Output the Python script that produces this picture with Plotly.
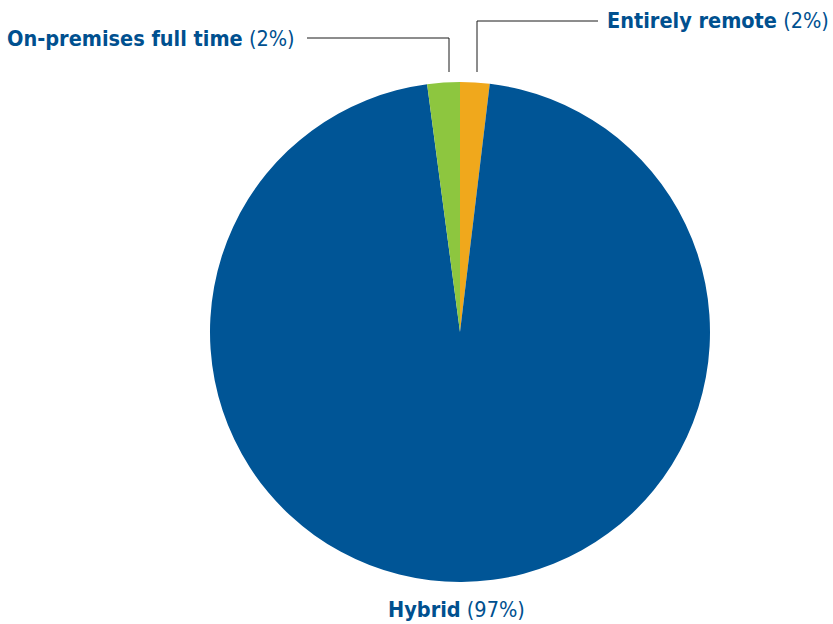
import plotly.graph_objects as go

W, H = 833, 624

categories = ["Entirely remote", "Hybrid", "On-premises full time"]
values = [1.9, 96.0, 2.1]
pct_labels = ["2%", "97%", "2%"]
colors = ["#F0A81C", "#005596", "#8DC63F"]
text_color = "#00508F"
FONT = "DejaVu Sans Condensed, DejaVu Sans, sans-serif"
FSIZE = 21.5

def px(x):
    return x / W

def py(y):
    return 1 - y / H

fig = go.Figure(go.Pie(
    labels=categories,
    values=values,
    sort=False,
    direction="clockwise",
    rotation=0,
    marker=dict(colors=colors, line=dict(width=0)),
    textinfo="none",
    hoverinfo="label+percent",
    showlegend=False,
    domain=dict(x=[px(210), px(710)], y=[py(582), py(82)]),
))

line_style = dict(color="#1a1a1a", width=1)
shapes = [
    dict(type="line", xref="paper", yref="paper", x0=px(449), y0=py(72), x1=px(449), y1=py(38), line=line_style),
    dict(type="line", xref="paper", yref="paper", x0=px(449), y0=py(38), x1=px(307), y1=py(38), line=line_style),
    dict(type="line", xref="paper", yref="paper", x0=px(477), y0=py(72), x1=px(477), y1=py(21), line=line_style),
    dict(type="line", xref="paper", yref="paper", x0=px(477), y0=py(21), x1=px(598), y1=py(21), line=line_style),
]

def label(i):
    return f"<b>{categories[i]}</b> ({pct_labels[i]})"

annotations = [
    dict(text=label(2), x=px(297), y=py(38), xref="paper", yref="paper",
         xanchor="right", yanchor="middle", showarrow=False,
         font=dict(family=FONT, size=FSIZE, color=text_color)),
    dict(text=label(0), x=px(831), y=py(21), xref="paper", yref="paper",
         xanchor="right", yanchor="middle", showarrow=False,
         font=dict(family=FONT, size=FSIZE, color=text_color)),
    dict(text=label(1), x=px(456), y=py(609), xref="paper", yref="paper",
         xanchor="center", yanchor="middle", showarrow=False,
         font=dict(family=FONT, size=FSIZE, color=text_color)),
]

fig.update_layout(
    width=W, height=H,
    margin=dict(l=0, r=0, t=0, b=0),
    paper_bgcolor="white",
    plot_bgcolor="white",
    shapes=shapes,
    annotations=annotations,
)

fig.write_html("out.html", config={"displayModeBar": False},
               post_script="document.body.style.margin='0';")
